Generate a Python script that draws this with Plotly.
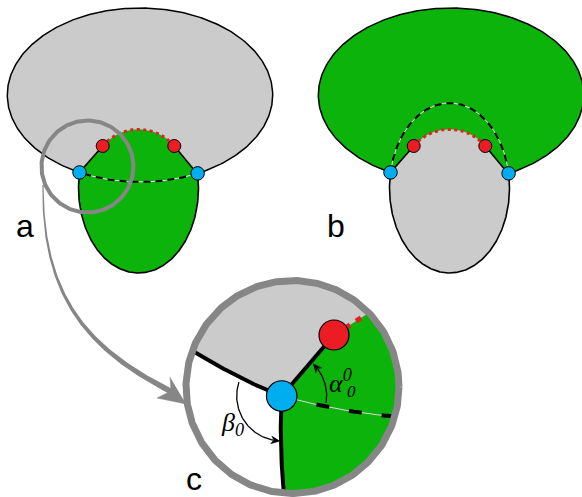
import numpy as np
import plotly.graph_objects as go

W, H = 582, 497

# ---- geometry (pixel coordinates, y pointing down) ----
BIG_ELLIPSE = [140.0, 95.0, 132.7, 87.0]      # cx, cy, rx, ry
SMALL_ELLIPSE = [138.5, 188.0, 60.0, 85.0]    # cx, cy, rx, ry
CAP_CIRCLE = [138.5, 176.0, 46.7]             # cx, cy, r  (red dotted contact arc)
RED_DOT_X = [102.7, 174.3]
RED_DOT_Y = [146.0, 146.0]
PANEL_SHIFT = [0.0, 311.0]                    # panel a, panel b
MAGNIFIER = [87.5, 166.5, 46.0]               # cx, cy, r

ZOOM_CIRCLE = [292.5, 387.0, 106.5]           # cx, cy, r (panel c)
C_BLUE = [281.7, 396.0]
C_RED = [334.0, 335.0]
C_END_ANGLES = [200.0, 94.6, -44.0, 16.0]     # left line, down line, red line, dashed line
C_LEFT_CTRL = [240.0, 380.0]
C_DOWN_CTRL = [279.0, 440.0]
C_DASH_CTRL = [340.0, 412.0]
ANGLE_ARC_R = 45.0
BETA_ARC = [198.0, 92.0]
ALPHA_ARC = [9.0, -46.0]

ARROW_BEZ_X = [43.0, 42.0, 90.0, 172.0]
ARROW_BEZ_Y = [185.0, 300.0, 350.0, 392.0]
ARROW_HEAD_X = [186.0, 157.0, 171.0, 170.0]
ARROW_HEAD_Y = [404.0, 398.0, 391.0, 377.0]

PANEL_LABELS = ["a", "b", "c"]
PANEL_LABEL_X = [25.0, 336.0, 194.0]
PANEL_LABEL_Y = [226.0, 226.0, 479.0]

GRAY = "#cbcbcb"
GREEN = "#0bb30b"
RED = "#ec1c24"
BLUE = "#00adef"
RING = "#868686"

fig = go.Figure()


def add(x, y, **kw):
    d = dict(x=list(x), y=list(y), mode="lines", hoverinfo="skip", showlegend=False)
    d.update(kw)
    fig.add_trace(go.Scatter(**d))


def ell(e, t):
    return e[0] + e[2] * np.cos(t), e[1] + e[3] * np.sin(t)


def arc_xy(cx, cy, r, a0, a1, n=120):
    a = np.radians(np.linspace(a0, a1, n))
    return cx + r * np.cos(a), cy + r * np.sin(a)


def qbez(p0, p1, p2, t0=0.0, t1=1.0, n=80):
    t = np.linspace(t0, t1, n)[:, None]
    p0, p1, p2 = (np.array(p, dtype=float) for p in (p0, p1, p2))
    pts = (1 - t) ** 2 * p0 + 2 * (1 - t) * t * p1 + t ** 2 * p2
    return pts[:, 0], pts[:, 1]


# intersections of the two ellipses (blue contact points)
ts = np.linspace(-np.pi, np.pi, 40001)
sx, sy = ell(SMALL_ELLIPSE, ts)
f = ((sx - BIG_ELLIPSE[0]) / BIG_ELLIPSE[2]) ** 2 + ((sy - BIG_ELLIPSE[1]) / BIG_ELLIPSE[3]) ** 2 - 1
idx = np.where(np.sign(f[:-1]) != np.sign(f[1:]))[0]
t_cross = sorted(ts[idx])
t_left, t_right = t_cross[0], t_cross[1]
bx_l, by_l = ell(SMALL_ELLIPSE, t_left)
bx_r, by_r = ell(SMALL_ELLIPSE, t_right)
u_l = np.arctan2((by_l - BIG_ELLIPSE[1]) / BIG_ELLIPSE[3], (bx_l - BIG_ELLIPSE[0]) / BIG_ELLIPSE[2])
u_r = np.arctan2((by_r - BIG_ELLIPSE[1]) / BIG_ELLIPSE[3], (bx_r - BIG_ELLIPSE[0]) / BIG_ELLIPSE[2])

cap_a_l = np.degrees(np.arctan2(RED_DOT_Y[0] - CAP_CIRCLE[1], RED_DOT_X[0] - CAP_CIRCLE[0]))
cap_a_r = np.degrees(np.arctan2(RED_DOT_Y[1] - CAP_CIRCLE[1], RED_DOT_X[1] - CAP_CIRCLE[0]))


def panel(dx, outer_color, inner_color, dash_big):
    t = np.linspace(0, 2 * np.pi, 400)
    ox, oy = ell(BIG_ELLIPSE, t)
    add(ox + dx, oy, fill="toself", fillcolor=outer_color, line=dict(color="black", width=1.5))
    lx, ly = ell(SMALL_ELLIPSE, np.linspace(t_right, t_left + 2 * np.pi, 300))
    cx_, cy_ = arc_xy(CAP_CIRCLE[0], CAP_CIRCLE[1], CAP_CIRCLE[2], cap_a_l, cap_a_r)
    add(np.concatenate([lx, cx_]) + dx, np.concatenate([ly, cy_]), fill="toself",
        fillcolor=inner_color, line=dict(width=0, color=inner_color))
    px = np.concatenate([[RED_DOT_X[1]], lx, [RED_DOT_X[0]]]) + dx
    py = np.concatenate([[RED_DOT_Y[1]], ly, [RED_DOT_Y[0]]])
    add(px, py, line=dict(color="black", width=1.6))
    if dash_big:
        hx, hy = ell(BIG_ELLIPSE, np.linspace(u_r, u_l, 120))
    else:
        hx, hy = ell(SMALL_ELLIPSE, np.linspace(t_left, t_right, 200))
    add(hx + dx, hy, line=dict(color="#e8e8e8", width=1))
    add(hx + dx, hy, line=dict(color="black", width=2, dash="7px,5px"))
    add(cx_ + dx, cy_, line=dict(color=RED, width=3, dash="3px,3.5px"))
    fig.add_trace(go.Scatter(x=[x + dx for x in RED_DOT_X], y=RED_DOT_Y, mode="markers",
                             marker=dict(size=13, color=RED, line=dict(color="black", width=1)),
                             hoverinfo="skip", showlegend=False))
    fig.add_trace(go.Scatter(x=[bx_l + dx, bx_r + dx], y=[by_l, by_r], mode="markers",
                             marker=dict(size=13.5, color=BLUE, line=dict(color="black", width=1)),
                             hoverinfo="skip", showlegend=False))


panel(PANEL_SHIFT[0], GRAY, GREEN, True)
panel(PANEL_SHIFT[1], GREEN, GRAY, False)

# magnifier circle in panel a
mx, my = arc_xy(MAGNIFIER[0], MAGNIFIER[1], MAGNIFIER[2], 0, 360, 200)
add(mx, my, line=dict(color=RING, width=4))

# ---- tapered arrow from a to c ----
tt = np.linspace(0, 1, 120)
P = np.stack([ARROW_BEZ_X, ARROW_BEZ_Y], axis=1)
B = ((1 - tt) ** 3)[:, None] * P[0] + (3 * (1 - tt) ** 2 * tt)[:, None] * P[1] + \
    (3 * (1 - tt) * tt ** 2)[:, None] * P[2] + (tt ** 3)[:, None] * P[3]
D = (3 * (1 - tt) ** 2)[:, None] * (P[1] - P[0]) + (6 * (1 - tt) * tt)[:, None] * (P[2] - P[1]) + \
    (3 * tt ** 2)[:, None] * (P[3] - P[2])
D = D / np.linalg.norm(D, axis=1)[:, None]
N = np.stack([-D[:, 1], D[:, 0]], axis=1)
wdt = (1.3 + 4.4 * tt)[:, None] / 2
Lp = B + N * wdt
Rp = B - N * wdt
add(np.concatenate([Lp[:, 0], Rp[::-1, 0]]), np.concatenate([Lp[:, 1], Rp[::-1, 1]]),
    fill="toself", fillcolor=RING, line=dict(width=0, color=RING))
add(ARROW_HEAD_X, ARROW_HEAD_Y, fill="toself", fillcolor=RING, line=dict(width=0.5, color=RING))

# ---- panel c ----
ccx, ccy, cr = ZOOM_CIRCLE
fr = cr + 1
gx, gy = arc_xy(ccx, ccy, fr, 0, 360, 300)
add(gx, gy, fill="toself", fillcolor=GRAY, line=dict(width=0, color=GRAY))


def ring_pt(a):
    return ccx + fr * np.cos(np.radians(a)), ccy + fr * np.sin(np.radians(a))


a_left, a_down, a_red, a_dash = C_END_ANGLES
left_end = ring_pt(a_left)
down_end = ring_pt(a_down)
red_end = ring_pt(a_red)
dash_end = ring_pt(a_dash)

llx, lly = qbez(C_BLUE, C_LEFT_CTRL, left_end)
dlx, dly = qbez(C_BLUE, C_DOWN_CTRL, down_end)

wx1, wy1 = arc_xy(ccx, ccy, fr, a_left, a_down, 120)
add(np.concatenate([llx, wx1, dlx[::-1]]), np.concatenate([lly, wy1, dly[::-1]]),
    fill="toself", fillcolor="white", line=dict(width=0, color="white"))
gx1, gy1 = arc_xy(ccx, ccy, fr, a_red, a_down, 160)
add(np.concatenate([[C_BLUE[0], C_RED[0]], gx1, dlx[::-1]]),
    np.concatenate([[C_BLUE[1], C_RED[1]], gy1, dly[::-1]]),
    fill="toself", fillcolor=GREEN, line=dict(width=0, color=GREEN))

dsx, dsy = qbez(C_BLUE, C_DASH_CTRL, dash_end)
add(dsx, dsy, line=dict(color="#dcdcdc", width=1))
dsx2, dsy2 = qbez(C_BLUE, C_DASH_CTRL, dash_end, t0=0.3)
add(dsx2, dsy2, line=dict(color="black", width=4, dash="13px,20px"))

add(llx, lly, line=dict(color="black", width=4))
add(dlx, dly, line=dict(color="black", width=4))
add([C_BLUE[0], C_RED[0]], [C_BLUE[1], C_RED[1]], line=dict(color="black", width=4))
add([C_RED[0], red_end[0]], [C_RED[1], red_end[1]], line=dict(color=RED, width=5, dash="6px,7px"))

# angle arcs with filled arrowheads
HEAD_LEN, HEAD_HALF = 9.0, 4.0
for a0, a1 in [BETA_ARC, ALPHA_ARC]:
    head_deg = np.degrees(HEAD_LEN / ANGLE_ARC_R) * np.sign(a0 - a1)
    ax_, ay_ = arc_xy(C_BLUE[0], C_BLUE[1], ANGLE_ARC_R, a0, a1 + head_deg * 0.8, 80)
    add(ax_, ay_, line=dict(color="black", width=1.3))
    tip = np.array([C_BLUE[0] + ANGLE_ARC_R * np.cos(np.radians(a1)),
                    C_BLUE[1] + ANGLE_ARC_R * np.sin(np.radians(a1))])
    base = np.array([C_BLUE[0] + ANGLE_ARC_R * np.cos(np.radians(a1 + head_deg)),
                     C_BLUE[1] + ANGLE_ARC_R * np.sin(np.radians(a1 + head_deg))])
    d = (tip - base) / np.linalg.norm(tip - base)
    n = np.array([-d[1], d[0]])
    pts = [tip, base + n * HEAD_HALF, base + d * 2.5, base - n * HEAD_HALF]
    add([p[0] for p in pts], [p[1] for p in pts], fill="toself", fillcolor="black",
        line=dict(color="black", width=0.5))

# ring
rx_, ry_ = arc_xy(ccx, ccy, cr, 0, 360, 400)
add(rx_, ry_, line=dict(color=RING, width=7))

fig.add_trace(go.Scatter(x=[C_RED[0]], y=[C_RED[1]], mode="markers",
                         marker=dict(size=30, color=RED, line=dict(color="black", width=1.2)),
                         hoverinfo="skip", showlegend=False))
fig.add_trace(go.Scatter(x=[C_BLUE[0]], y=[C_BLUE[1]], mode="markers",
                         marker=dict(size=30.5, color=BLUE, line=dict(color="black", width=1.2)),
                         hoverinfo="skip", showlegend=False))

for t_, x_, y_ in zip(PANEL_LABELS, PANEL_LABEL_X, PANEL_LABEL_Y):
    fig.add_annotation(x=x_, y=y_, text=t_, showarrow=False, xanchor="center", yanchor="middle",
                       font=dict(family="Liberation Sans, Arial", size=32, color="black"))

fig.add_annotation(x=232, y=424, text="<i>β<sub>0</sub></i>", showarrow=False,
                   xanchor="center", yanchor="middle",
                   font=dict(family="Liberation Serif, Times New Roman", size=26, color="black"))
fig.add_annotation(x=340, y=381, text="<i>α<sup>0</sup></i>", showarrow=False,
                   xanchor="center", yanchor="middle",
                   font=dict(family="Liberation Serif, Times New Roman", size=26, color="black"))
fig.add_annotation(x=351, y=391, text="<i>0</i>", showarrow=False,
                   xanchor="center", yanchor="middle",
                   font=dict(family="Liberation Serif, Times New Roman", size=17, color="black"))

fig.update_layout(
    width=W, height=H, autosize=False,
    margin=dict(l=0, r=0, t=0, b=0),
    paper_bgcolor="white", plot_bgcolor="white",
    xaxis=dict(range=[0, W], visible=False, fixedrange=True),
    yaxis=dict(range=[H, 0], visible=False, fixedrange=True),
    showlegend=False,
)

fig.write_html("out.html", config={"displayModeBar": False},
               post_script="document.body.style.margin='0';document.body.style.overflow='hidden';")
